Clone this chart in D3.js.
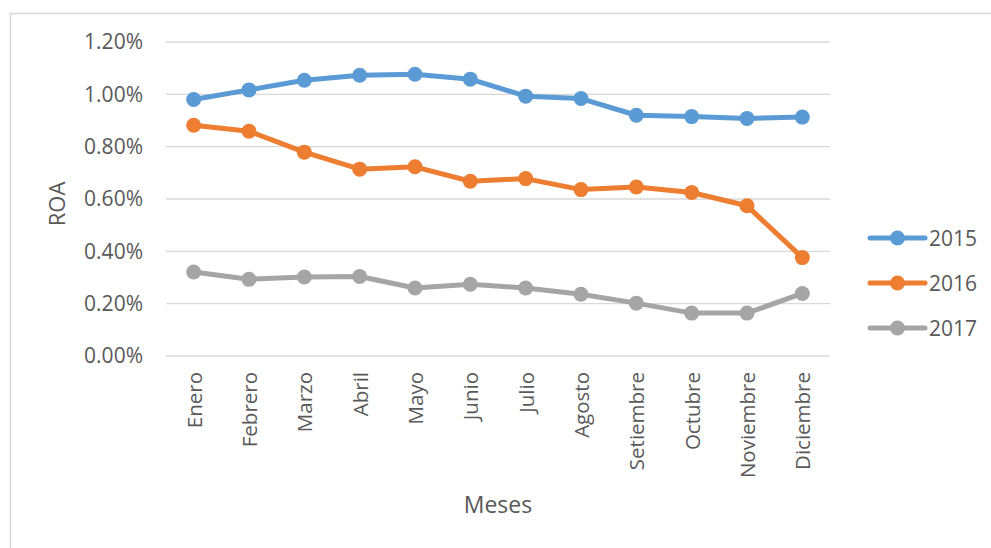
<!DOCTYPE html>
<html>
<head>
<meta charset="utf-8">
<script src="https://cdn.jsdelivr.net/npm/d3@7"></script>
<style>
  html, body { margin: 0; padding: 0; background: #fff; }
  svg { display: block; }
  text { font-family: "Open Sans", sans-serif; fill: #595959; }
</style>
</head>
<body>
<svg id="chart" width="991" height="548"></svg>
<script>
// Monthly ROA by year (percent)
const months = ["Enero", "Febrero", "Marzo", "Abril", "Mayo", "Junio", "Julio",
                "Agosto", "Setiembre", "Octubre", "Noviembre", "Diciembre"];
const roa2015 = [0.980, 1.017, 1.054, 1.073, 1.077, 1.058, 0.993, 0.984, 0.920, 0.915, 0.908, 0.913];
const roa2016 = [0.882, 0.859, 0.779, 0.714, 0.723, 0.668, 0.678, 0.636, 0.646, 0.625, 0.574, 0.376];
const roa2017 = [0.321, 0.293, 0.302, 0.304, 0.260, 0.274, 0.260, 0.236, 0.202, 0.164, 0.164, 0.239];
const yTicks = [0, 0.2, 0.4, 0.6, 0.8, 1.0, 1.2];
const seriesNames = ["2015", "2016", "2017"];
const seriesColors = ["#5B9BD5", "#ED7D31", "#A5A5A5"];

const series = [roa2015, roa2016, roa2017].map((vals, i) => ({
  name: seriesNames[i], color: seriesColors[i], values: vals
}));

const svg = d3.select("#chart");
const plot = { left: 166, right: 830, top: 42, bottom: 356 };

// chart area frame
svg.append("rect")
  .attr("x", 10.5).attr("y", 13.5)
  .attr("width", 1000).attr("height", 600)
  .attr("fill", "#fff").attr("stroke", "#d9d9d9").attr("stroke-width", 1.5);

const x = d3.scalePoint().domain(months)
  .range([plot.left, plot.right]).padding(0.5);
const y = d3.scaleLinear().domain([0, 1.2]).range([plot.bottom, plot.top]);

// horizontal gridlines
svg.append("g").selectAll("line").data(yTicks).join("line")
  .attr("x1", plot.left).attr("x2", plot.right)
  .attr("y1", d => y(d)).attr("y2", d => y(d))
  .attr("stroke", "#d9d9d9").attr("stroke-width", 1.3);

// y axis labels
const yAxis = svg.append("g")
  .attr("transform", `translate(${plot.left - 23},0)`)
  .call(d3.axisLeft(y).tickValues(yTicks).tickSize(0).tickPadding(0)
    .tickFormat(d => d.toFixed(2) + "%"));
yAxis.select(".domain").remove();
yAxis.selectAll("text")
  .attr("font-family", "Open Sans, sans-serif")
  .attr("font-size", 21).attr("fill", "#595959");

// x axis labels, rotated
const xAxis = svg.append("g")
  .attr("transform", `translate(0,${plot.bottom})`)
  .call(d3.axisBottom(x).tickSize(0).tickPadding(0));
xAxis.select(".domain").remove();
xAxis.selectAll("text")
  .attr("font-family", "Open Sans, sans-serif")
  .attr("font-size", 20.5).attr("fill", "#595959")
  .attr("text-anchor", "end")
  .attr("transform", "translate(0,16) rotate(-90)")
  .attr("x", 0).attr("y", 0).attr("dy", "0.36em");

// axis titles
svg.append("text")
  .attr("x", (plot.left + plot.right) / 2).attr("y", 513)
  .attr("text-anchor", "middle").attr("font-size", 23)
  .text("Meses");
svg.append("text")
  .attr("transform", `translate(65,${(plot.top + plot.bottom) / 2 + 5}) rotate(-90)`)
  .attr("text-anchor", "middle").attr("font-size", 22)
  .text("ROA");

// lines and markers
const line = d3.line().x((d, i) => x(months[i])).y(d => y(d));
const gSeries = svg.append("g").selectAll("g").data(series).join("g");
gSeries.append("path")
  .attr("d", d => line(d.values))
  .attr("fill", "none").attr("stroke", d => d.color)
  .attr("stroke-width", 5).attr("stroke-linejoin", "round").attr("stroke-linecap", "round");
gSeries.each(function (s) {
  d3.select(this).selectAll("circle").data(s.values).join("circle")
    .attr("cx", (d, i) => x(months[i])).attr("cy", d => y(d))
    .attr("r", 7.5).attr("fill", s.color);
});

// legend
const legend = svg.append("g").selectAll("g").data(series).join("g")
  .attr("transform", (d, i) => `translate(870,${238 + i * 45})`);
legend.append("line")
  .attr("x1", 0).attr("x2", 55).attr("y1", 0).attr("y2", 0)
  .attr("stroke", d => d.color).attr("stroke-width", 5).attr("stroke-linecap", "round");
legend.append("circle").attr("cx", 27.5).attr("cy", 0).attr("r", 7.5)
  .attr("fill", d => d.color);
legend.append("text")
  .attr("x", 59).attr("y", 0).attr("dy", "0.36em")
  .attr("font-size", 21)
  .text(d => d.name);
</script>
</body>
</html>
